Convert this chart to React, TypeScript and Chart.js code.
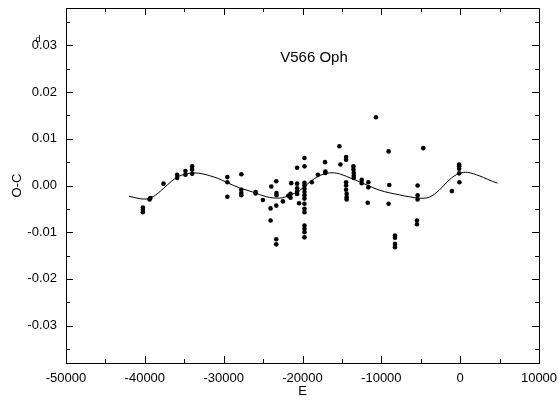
import React, { useEffect, useRef } from "react";
import { Chart, registerables } from "chart.js";

Chart.register(...registerables);

// Observed O-C points
const epochE = [
  -40250, -40250, -40250, -39400, -39300, -37630, -35900, -35900, -34850, -34850,
  -34000, -34000, -34000, -29530, -29530, -29530, -27760, -27760, -27760, -27760,
  -25950, -25950, -25030, -23960, -24050, -24050, -23330, -23300, -23300, -23330,
  -23330, -23330, -22490, -21520, -21520, -21430, -21800, -20680, -20680, -20680,
  -20680, -20680, -20430, -19750, -19750, -19750, -19750, -19750, -19750, -19750,
  -19750, -19750, -19750, -19750, -19750, -19750, -19750, -19750, -18820, -18050,
  -17140, -17100, -17100, -15320, -15190, -14470, -14470, -14470, -14470, -14470,
  -14400, -14400, -14400, -13540, -13540, -13500, -13500, -13500, -12490, -12490,
  -11650, -11650, -11730, -10680, -9080, -8990, -9080, -8270, -8270, -8270,
  -8270, -4680, -5400, -5400, -5400, -5480, -5480, -1050, -130, -130,
  -130, -130, -100,
];
const ocValues = [
  -0.0047, -0.0052, -0.0057, -0.0030, -0.0027, 0.0004, 0.0023, 0.0016, 0.0031, 0.0023,
  0.0041, 0.0034, 0.0025, 0.0018, 0.0007, -0.0024, 0.0024, -0.0009, -0.0016, -0.0021,
  -0.0014, -0.0017, -0.0031, -0.0002, -0.0049, -0.0075, 0.0009, -0.0016, -0.0021, -0.0043,
  -0.0115, -0.0126, -0.0034, -0.0018, -0.0026, 0.0005, -0.0022, 0.0038, 0.0004, -0.0006,
  -0.0013, -0.0018, -0.0038, 0.0059, 0.0041, 0.0006, 0.0, -0.0007, -0.0014, -0.0021,
  -0.0028, -0.0039, -0.0050, -0.0057, -0.0086, -0.0093, -0.0100, -0.0111, 0.0007, 0.0023,
  0.0050, 0.0030, 0.0027, 0.0084, 0.0045, 0.0061, 0.0055, 0.0007, 0.0, -0.0009,
  -0.0018, -0.0025, -0.0030, 0.0041, 0.0034, 0.0027, 0.0021, 0.0016, 0.0012, 0.0005,
  0.0007, -0.0004, -0.0037, 0.0146, 0.0073, 0.0001, -0.0039, -0.0107, -0.0112, -0.0125,
  -0.0132, 0.0080, 0.0, -0.0021, -0.0030, -0.0075, -0.0083, -0.0012, 0.0045, 0.0041,
  0.0036, 0.0026, 0.0007,
];

// Fitted light-time curve
const curveE = [
  -42000, -41000, -40200, -39500, -38950, -38300, -37680, -36620, -35780, -34720,
  -33670, -32700, -31770, -30700, -29660, -28000, -26290, -24600, -22910, -21650,
  -20380, -19110, -17850, -16580, -15320, -13630, -11940, -10250, -7720, -5190,
  -3920, -2660, -1390, -130, 930, 2400, 3500, 4720,
];
const curveOC = [
  -0.0023, -0.0027, -0.0029, -0.0028, -0.0024, -0.0016, -0.0007, 0.0009, 0.0019, 0.0025,
  0.0027, 0.0025, 0.0021, 0.0015, 0.0007, -0.0005, -0.0014, -0.0024, -0.0027, -0.0021,
  -0.0011, 0.0007, 0.0021, 0.0027, 0.0025, 0.0014, 0.0002, -0.0010, -0.0020, -0.0027,
  -0.0025, -0.0010, 0.0012, 0.0026, 0.0028, 0.0021, 0.0013, 0.0005,
];

const xTickValues = [-50000, -45000, -40000, -35000, -30000, -25000, -20000, -15000, -10000, -5000, 0, 5000, 10000];
const yTickValues = [-0.035, -0.03, -0.025, -0.02, -0.015, -0.01, -0.005, 0, 0.005, 0.01, 0.015, 0.02, 0.025, 0.03, 0.035];

const starName = "V566 Oph";
const FONT = "'Liberation Sans', Arial, sans-serif";

const framePlugin = {
  id: "frameTicks",
  afterDraw(chart: any) {
    const { ctx, chartArea: a, scales } = chart;
    const xs = scales.x;
    const ys = scales.y;
    ctx.save();
    ctx.strokeStyle = "#000";
    ctx.lineWidth = 1;
    ctx.strokeRect(Math.round(a.left) + 0.5, Math.round(a.top) + 0.5, Math.round(a.right - a.left), Math.round(a.bottom - a.top));
    ctx.beginPath();
    xTickValues.forEach((v) => {
      const px = Math.round(xs.getPixelForValue(v)) + 0.5;
      const len = v % 10000 === 0 ? 7 : 4;
      ctx.moveTo(px, a.bottom);
      ctx.lineTo(px, a.bottom - len);
      ctx.moveTo(px, a.top);
      ctx.lineTo(px, a.top + len);
    });
    yTickValues.forEach((v) => {
      const py = Math.round(ys.getPixelForValue(v)) + 0.5;
      const major = Math.abs(Math.round(v * 1000) % 10) === 0;
      const len = major ? 7 : 4;
      ctx.moveTo(a.left, py);
      ctx.lineTo(a.left + len, py);
      ctx.moveTo(a.right, py);
      ctx.lineTo(a.right - len, py);
    });
    ctx.stroke();
    // star name
    ctx.fillStyle = "#000";
    ctx.font = `15px ${FONT}`;
    ctx.textAlign = "center";
    ctx.textBaseline = "middle";
    ctx.fillText(starName, a.left + 248, 58);
    // superscript day mark on the 0.03 label
    ctx.font = `9px ${FONT}`;
    ctx.fillText("d", 38, ys.getPixelForValue(0.03) - 6);
    ctx.restore();
  },
};

export default function App() {
  const ref = useRef<HTMLCanvasElement | null>(null);
  useEffect(() => {
    if (!ref.current) return;
    const chart = new Chart(ref.current, {
      type: "scatter",
      data: {
        datasets: [
          {
            type: "line",
            data: curveE.map((e, i) => ({ x: e, y: curveOC[i] })),
            borderColor: "#000",
            borderWidth: 1,
            pointRadius: 0,
            tension: 0.35,
            fill: false,
          } as any,
          {
            type: "scatter",
            data: epochE.map((e, i) => ({ x: e, y: ocValues[i] })),
            backgroundColor: "#000",
            borderWidth: 0,
            pointRadius: 2.3,
          },
        ],
      },
      options: {
        animation: false,
        responsive: false,
        devicePixelRatio: 1,
        layout: { padding: { left: 0, top: 8, right: 19, bottom: 0 } },
        plugins: { legend: { display: false }, tooltip: { enabled: false } },
        scales: {
          x: {
            type: "linear",
            min: -50000,
            max: 10000,
            grid: { display: false, drawTicks: false },
            border: { display: false },
            ticks: {
              stepSize: 10000,
              includeBounds: false,
              color: "#000",
              padding: 8,
              font: { family: FONT, size: 13 },
              callback: (v: any) => String(v),
              maxRotation: 0,
              autoSkip: false,
            },
            title: { display: true, text: "E", color: "#000", font: { family: FONT, size: 13 }, padding: { top: 0, bottom: 4 } },
            afterFit: (s: any) => {
              s.height = 40;
              s.paddingLeft = 0;
              s.paddingRight = 0;
            },
          },
          y: {
            type: "linear",
            min: -0.038,
            max: 0.038,
            grid: { display: false, drawTicks: false },
            border: { display: false },
            ticks: {
              stepSize: 0.01,
              includeBounds: false,
              color: "#000",
              padding: 9,
              font: { family: FONT, size: 13 },
              callback: (v: any) => (Math.abs(v) < 1e-9 ? "0.00" : Number(v).toFixed(2)),
              autoSkip: false,
            },
            title: { display: true, text: "O-C", color: "#000", font: { family: FONT, size: 13 }, padding: { top: 10, bottom: 0 } },
            afterFit: (s: any) => {
              s.width = 66;
              s.paddingTop = 0;
              s.paddingBottom = 0;
            },
          },
        },
      },
      plugins: [framePlugin],
    });
    return () => chart.destroy();
  }, []);
  return (
    <div style={{ position: "absolute", left: 0, top: 0, width: 558, height: 403, background: "#fff" }}>
      <canvas ref={ref} width={558} height={403} />
    </div>
  );
}
